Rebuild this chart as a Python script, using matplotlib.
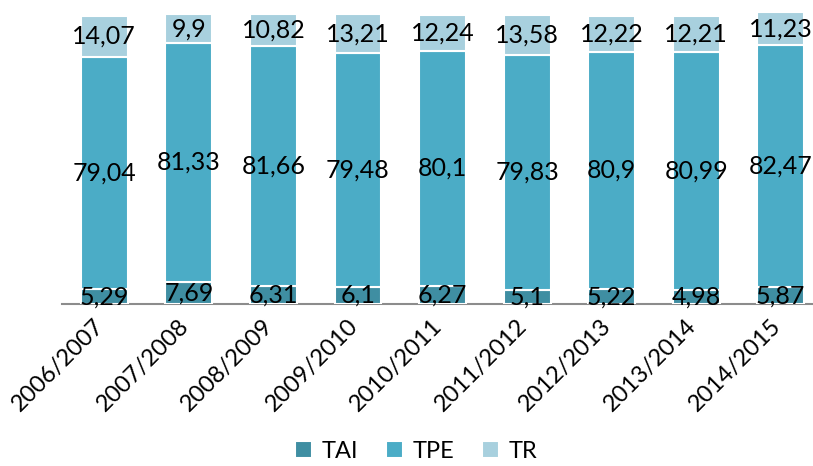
import numpy as np
import matplotlib.pyplot as plt
import matplotlib.transforms as mtransforms

plt.rcParams['font.family'] = ['Lato', 'DejaVu Sans']

# data
years = ["2006/2007", "2007/2008", "2008/2009", "2009/2010", "2010/2011",
         "2011/2012", "2012/2013", "2013/2014", "2014/2015"]
tai = [5.29, 7.69, 6.31, 6.1, 6.27, 5.1, 5.22, 4.98, 5.87]
tpe = [79.04, 81.33, 81.66, 79.48, 80.1, 79.83, 80.9, 80.99, 82.47]
tr = [14.07, 9.9, 10.82, 13.21, 12.24, 13.58, 12.22, 12.21, 11.23]

colors = {"TAI": "#3F8EA2", "TPE": "#4BACC6", "TR": "#A8D0DE"}

fig = plt.figure(figsize=(8.13, 4.66), dpi=100)
ax = fig.add_axes([0.0763, 0.3466, 0.936, 0.63])

x = np.arange(len(years))
w = 0.555
bottom = np.zeros(len(years))
for name, vals in [("TAI", tai), ("TPE", tpe), ("TR", tr)]:
    bars = ax.bar(x, vals, w, bottom=bottom, color=colors[name],
                  edgecolor="white", linewidth=1.5, label=name)
    ax.bar_label(bars, labels=[str(v).replace(".", ",") for v in vals],
                 label_type="center", fontsize=18, color="black")
    bottom += np.array(vals)

ax.set_xlim(-0.5, 8.5)
ax.set_ylim(0, 100)
ax.set_yticks([])
for s in ["top", "right", "left"]:
    ax.spines[s].set_visible(False)
ax.spines["bottom"].set_color("#8c8c8c")
ax.spines["bottom"].set_linewidth(1.5)
ax.spines["bottom"].set_zorder(0)

ax.set_xticks(x)
ax.set_xticklabels(years, rotation=45, ha="right", rotation_mode="anchor", fontsize=17)
ax.tick_params(axis="x", length=0, pad=8)
# shift tick labels a bit to the left, like the original
offset = mtransforms.ScaledTranslation(-11 / 100, 0, fig.dpi_scale_trans)
for lbl in ax.get_xticklabels():
    lbl.set_transform(lbl.get_transform() + offset)

fig.legend(loc="center", bbox_to_anchor=(0.512, 0.032), ncol=3, frameon=False,
           fontsize=17, handlelength=0.7, handleheight=0.7, handletextpad=0.4,
           columnspacing=1.2)

fig.savefig("out.png", dpi=100)
